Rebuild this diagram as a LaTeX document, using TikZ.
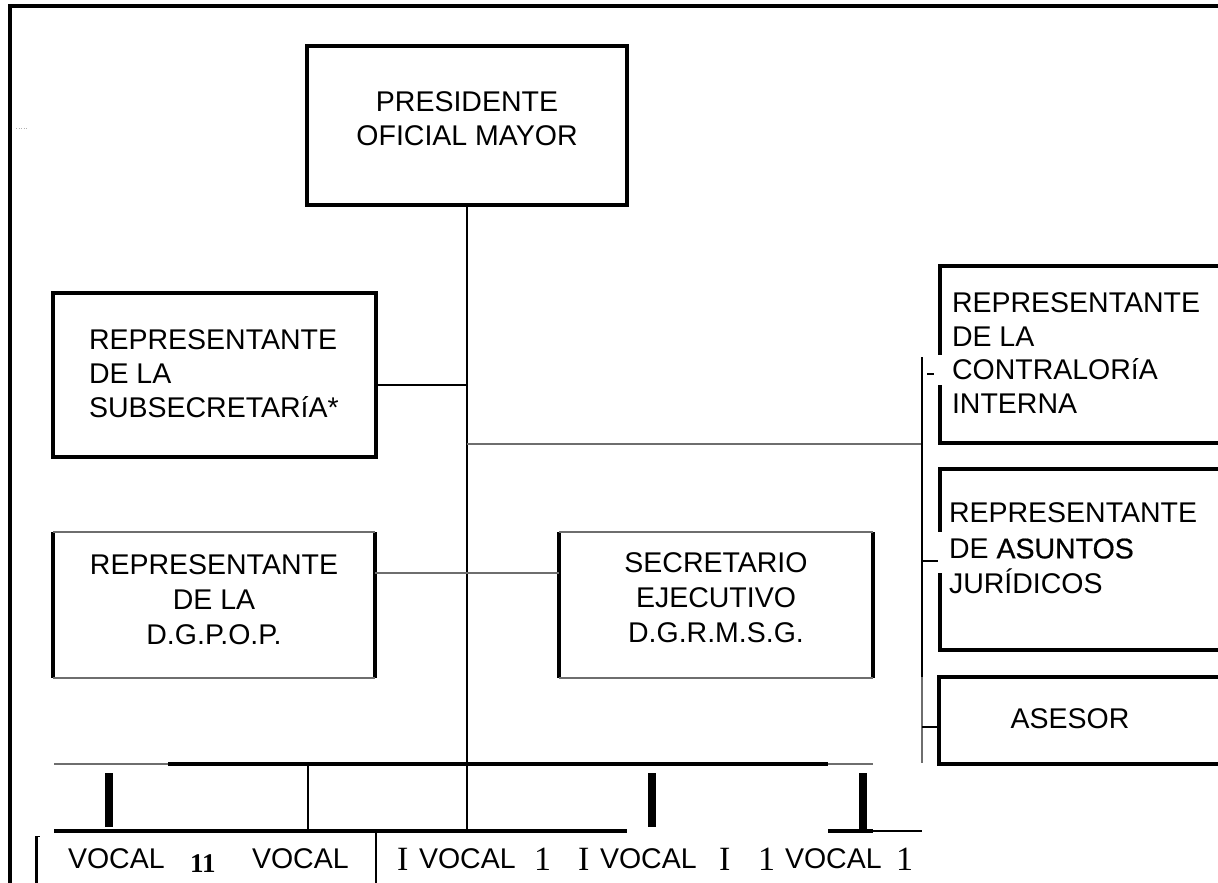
\documentclass[tikz,border=0pt]{standalone}
\usepackage{fontspec}
\setmainfont{Liberation Sans}
\newfontfamily\numfont{Liberation Serif}
\definecolor{linegray}{HTML}{6E6E6E}
\begin{document}
\begin{tikzpicture}[x=1pt,y=-1pt,
  heavy/.style={line width=3.1pt},
  medium/.style={line width=2.7pt},
  hair/.style={line width=1.3pt, draw=linegray},
  bar/.style={line width=8pt},
  boxshape/.style={rectangle, inner sep=0pt, outer sep=0pt},
  txt/.style={inner sep=0pt, outer sep=0pt, font=\fontsize{28.5}{34}\selectfont},
  vocal/.style={txt, anchor=base west},
  numtxt/.style={inner sep=0pt, outer sep=0pt, anchor=base west, font=\numfont\fontsize{34}{34}\selectfont},
]
\useasboundingbox (0,0) rectangle (1218,883);

% outer frame (open to the right and bottom)
\draw[line width=3.2pt] (1240,6) -- (10,6) -- (10,900);
\draw[gray!60, line width=0.6pt, dash pattern=on 1pt off 1.5pt] (16,128) -- (28,128);

% ---- boxes ----
\node[boxshape, draw, heavy, minimum width=320pt, minimum height=159pt] (pres) at (467,125.5) {};
\node[txt, anchor=north, align=center] (presT) at (467,92) {PRESIDENTE\\OFICIAL MAYOR};

\node[boxshape, draw, heavy, minimum width=323pt, minimum height=164pt] (sub) at (214.5,375) {};
\node[txt, anchor=north west, align=left] (subT) at (89,330) {REPRESENTANTE\\DE LA\\SUBSECRETARíA*};

\node[boxshape, minimum width=322pt, minimum height=146pt] (dg) at (214,605) {};
\draw[heavy] (dg.north west) -- (dg.south west);
\draw[heavy] (dg.north east) -- (dg.south east);
\draw[hair] (dg.north west) -- (dg.north east);
\draw[hair] (dg.south west) -- (dg.south east);
\node[txt, anchor=north, align=center, font=\fontsize{28.5}{35}\selectfont] (dgT) at (214,555) {REPRESENTANTE\\DE LA\\D.G.P.O.P.};

\node[boxshape, minimum width=314pt, minimum height=146pt] (se) at (716,605) {};
\draw[heavy] (se.north west) -- (se.south west);
\draw[heavy] (se.north east) -- (se.south east);
\draw[hair] (se.north west) -- (se.north east);
\draw[hair] (se.south west) -- (se.south east);
\node[txt, anchor=north, align=center, font=\fontsize{28.5}{35}\selectfont] (seT) at (716,553) {SECRETARIO\\EJECUTIVO\\D.G.R.M.S.G.};

% right column boxes (cut by the page edge)
\node[boxshape, minimum width=290pt, minimum height=177pt] (co) at (1085,354.5) {};
\draw[heavy] (co.north east) -- (co.north west) -- (940,355);
\draw[heavy] (940,385) -- (co.south west) -- (co.south east);
\node[txt, anchor=north west, align=left, font=\fontsize{28.5}{33.5}\selectfont] (coT) at (952,293) {REPRESENTANTE\\DE LA\\CONTRALORíA\\INTERNA};

\node[boxshape, minimum width=290pt, minimum height=181pt] (ju) at (1085,559.5) {};
\draw[heavy] (ju.north east) -- (ju.north west) -- (940,532);
\draw[heavy] (940,573) -- (ju.south west) -- (ju.south east);
\node[txt, anchor=north west, align=left, font=\fontsize{28.5}{35.5}\selectfont] (juT) at (949,503) {REPRESENTANTE\\DE {\addfontfeature{FakeBold=0.6}ASUNTOS}\\JURÍDICOS};

\node[boxshape, minimum width=290pt, minimum height=87pt] (as) at (1084,720.5) {};
\draw[heavy] (as.north east) -- (as.north west) -- (as.south west) -- (as.south east);
\node[txt, anchor=base] (asT) at (1070,728) {ASESOR};

% ---- junction points ----
\coordinate (hubSub) at (467,385);
\coordinate (hubRight) at (467,444);
\coordinate (hubDg) at (467,573);
\coordinate (busLow) at (467,831);
\coordinate (rTop) at (922,357);
\coordinate (rMid) at (922,677);
\coordinate (rBot) at (922,763);
\coordinate (rJoin) at (922,444);

% ---- connectors ----
\draw[medium] (pres.south) -- (busLow);
\draw[line width=2.4pt] (hubSub -| sub.east) -- (hubSub);
\draw[hair] (hubRight) -- (rJoin);
\draw[hair] (hubDg -| dg.east) -- (hubDg -| se.west);

\draw[medium] (rTop) -- (rMid);
\draw[line width=1.6pt, draw=linegray] (rMid) -- (rBot);
\draw[line width=2pt] (927,374) -- (934,374);
\draw[line width=2.2pt] (rTop |- 0,561) -- (938,561);
\draw[line width=2.2pt] (rTop |- 0,727) -- (as.west |- 0,727);

% ---- vocal bus ----
\draw[hair] (54,764) -- (168,764);
\draw[heavy] (168,764) -- (828,764);
\draw[hair] (828,764) -- (873,764);
\draw[heavy] (54,831) -- (627,831);
\draw[heavy] (828,831) -- (873,831);
\draw[line width=2.2pt] (873,831) -- (922,831);
\draw[bar] (109,773) -- (109,827);
\draw[bar] (652,773) -- (652,827);
\draw[bar] (863,773) -- (863,831);
\draw[medium] (308,764) -- (308,831);
\draw[medium] (376,831) -- (376,890);
\draw[line width=2.2pt] (36.5,836) -- (36.5,890);
\draw[line width=1.2pt] (36,836.5) -- (40,836.5);

% ---- vocal labels ----
\node[vocal] (v1) at (68,868) {VOCAL};
\node[inner sep=0pt, anchor=base west, font=\numfont\bfseries\fontsize{27}{27}\selectfont] (n11) at (190,872) {11};
\node[vocal] (v2) at (252,868) {VOCAL};
\node[numtxt] (i1) at (397,870) {I};
\node[vocal] (v3) at (419,868) {VOCAL};
\node[numtxt] (o1) at (534,870) {1};
\node[numtxt] (i2) at (578,870) {I};
\node[vocal] (v4) at (600,868) {VOCAL};
\node[numtxt] (i3) at (719,870) {I};
\node[numtxt] (o2) at (758,870) {1};
\node[vocal] (v5) at (785,868) {VOCAL};
\node[numtxt] (o3) at (896,870) {1};
\end{tikzpicture}
\end{document}
